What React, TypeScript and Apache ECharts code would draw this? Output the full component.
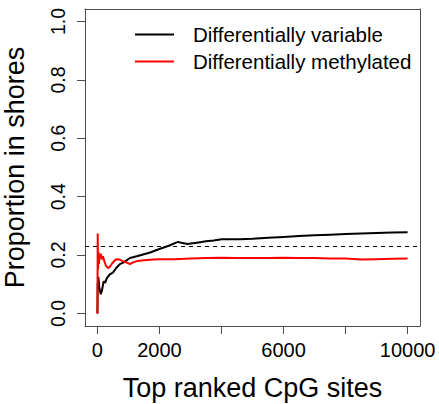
import React, { useEffect, useRef } from "react";
import * as echarts from "echarts";

// Data
const dvX = [1, 10, 30, 60, 107, 150, 200, 250, 300, 400, 500, 600, 723, 850, 1047, 1300, 1500, 1700, 2000, 2300, 2500, 2600, 2750, 2900, 3200, 3500, 3750, 4000, 4300, 4600, 5000, 5500, 6000, 6500, 7000, 7500, 8000, 8500, 9000, 9500, 10000];
const dvY = [0.0, 0.1, 0.125, 0.09, 0.066, 0.08, 0.11, 0.105, 0.12, 0.134, 0.14, 0.155, 0.169, 0.175, 0.19, 0.197, 0.203, 0.209, 0.221, 0.232, 0.241, 0.245, 0.241, 0.238, 0.242, 0.247, 0.25, 0.254, 0.254, 0.254, 0.256, 0.259, 0.262, 0.265, 0.268, 0.27, 0.272, 0.274, 0.276, 0.277, 0.278];

const dmX = [1, 10, 20, 35, 50, 70, 90, 110, 140, 180, 220, 270, 340, 400, 480, 560, 615, 700, 800, 900, 1000, 1047, 1150, 1300, 1500, 1800, 2000, 2500, 3000, 3500, 4000, 4500, 5000, 5500, 6000, 6500, 7000, 7500, 8000, 8500, 9000, 9500, 10000];
const dmY = [0.0, 0.274, 0.15, 0.21, 0.17, 0.2, 0.19, 0.205, 0.185, 0.196, 0.18, 0.165, 0.155, 0.16, 0.172, 0.182, 0.186, 0.185, 0.18, 0.176, 0.172, 0.169, 0.175, 0.18, 0.182, 0.185, 0.186, 0.186, 0.188, 0.19, 0.191, 0.19, 0.19, 0.19, 0.191, 0.19, 0.19, 0.188, 0.188, 0.185, 0.186, 0.187, 0.188];

const baseline = 0.23;
const xTicks = [0, 2000, 4000, 6000, 8000, 10000];
const xLabels = [0, 2000, 6000, 10000];
const yTicks = [0, 0.2, 0.4, 0.6, 0.8, 1.0];

const seriesNames = ["Differentially variable", "Differentially methylated"];
const xTitle = "Top ranked CpG sites";
const yTitle = "Proportion in shores";

const FONT = "'Liberation Sans', Arial, Helvetica, sans-serif";
const AXIS_COLOR = "#4d4d4d";
const X_MIN = -400;
const X_MAX = 10400;
const Y_MIN = -0.043;
const Y_MAX = 1.043;

export default function App() {
  const ref = useRef<HTMLDivElement>(null);
  useEffect(() => {
    if (!ref.current) return;
    const chart = echarts.init(ref.current, undefined, { renderer: "svg" });
    const zip = (xs: number[], ys: number[]) => xs.map((x, i) => [x, ys[i]]);
    const frameAxis = {
      type: "value",
      axisLine: { show: true, onZero: false, lineStyle: { color: AXIS_COLOR, width: 1 } },
      axisTick: { show: false },
      axisLabel: { show: false },
      splitLine: { show: false },
    };
    chart.setOption({
      animation: false,
      backgroundColor: "#ffffff",
      textStyle: { fontFamily: FONT },
      grid: {
        left: 85,
        top: 9,
        width: 335,
        height: 317,
        outerBoundsMode: "none",
        containLabel: false,
      },
      legend: {
        orient: "vertical",
        left: 135,
        top: 24,
        padding: 0,
        itemWidth: 39,
        itemHeight: 2,
        itemGap: 6,
        icon: "rect",
        data: seriesNames,
        textStyle: {
          fontSize: 20.5,
          color: "#000",
          fontFamily: FONT,
          padding: [0, 0, 0, 14],
        },
      },
      xAxis: [
        {
          type: "value",
          min: X_MIN,
          max: X_MAX,
          position: "bottom",
          name: xTitle,
          nameLocation: "middle",
          nameGap: 48,
          nameTextStyle: { fontSize: 27, color: "#000", fontFamily: FONT },
          axisLine: { show: true, onZero: false, lineStyle: { color: AXIS_COLOR, width: 1 } },
          splitLine: { show: false },
          axisTick: {
            show: true,
            inside: false,
            length: 8,
            customValues: xTicks,
            lineStyle: { color: AXIS_COLOR, width: 1 },
          },
          axisLabel: {
            show: true,
            customValues: xLabels,
            margin: 14,
            fontSize: 20,
            color: "#000",
            fontFamily: FONT,
            hideOverlap: false,
            formatter: (v: number) => String(v),
          },
        },
        { ...frameAxis, min: X_MIN, max: X_MAX, position: "top" },
      ],
      yAxis: [
        {
          type: "value",
          min: Y_MIN,
          max: Y_MAX,
          position: "left",
          name: yTitle,
          nameLocation: "middle",
          nameGap: 57,
          nameRotate: 90,
          nameTextStyle: { fontSize: 27, color: "#000", fontFamily: FONT },
          axisLine: { show: true, onZero: false, lineStyle: { color: AXIS_COLOR, width: 1 } },
          splitLine: { show: false },
          axisTick: {
            show: true,
            inside: false,
            length: 8,
            customValues: yTicks,
            lineStyle: { color: AXIS_COLOR, width: 1 },
          },
          axisLabel: {
            show: true,
            customValues: yTicks,
            rotate: 90,
            align: "center",
            verticalAlign: "middle",
            margin: 27,
            fontSize: 19.5,
            color: "#000",
            fontFamily: FONT,
            hideOverlap: false,
            formatter: (v: number) => v.toFixed(1),
          },
        },
        { ...frameAxis, min: Y_MIN, max: Y_MAX, position: "right" },
      ],
      series: [
        {
          name: seriesNames[0],
          type: "line",
          data: zip(dvX, dvY),
          symbol: "none",
          lineStyle: { color: "#000000", width: 2 },
          itemStyle: { color: "#000000" },
          markLine: {
            silent: true,
            symbol: "none",
            label: { show: false },
            lineStyle: { color: "#000000", width: 1, type: [4, 4] },
            data: [{ yAxis: baseline }],
          },
        },
        {
          name: seriesNames[1],
          type: "line",
          data: zip(dmX, dmY),
          symbol: "none",
          lineStyle: { color: "#ff0000", width: 2 },
          itemStyle: { color: "#ff0000" },
        },
      ],
    });
    return () => chart.dispose();
  }, []);
  return <div ref={ref} style={{ width: 439, height: 404, position: "absolute", left: 0, top: 0 }} />;
}
